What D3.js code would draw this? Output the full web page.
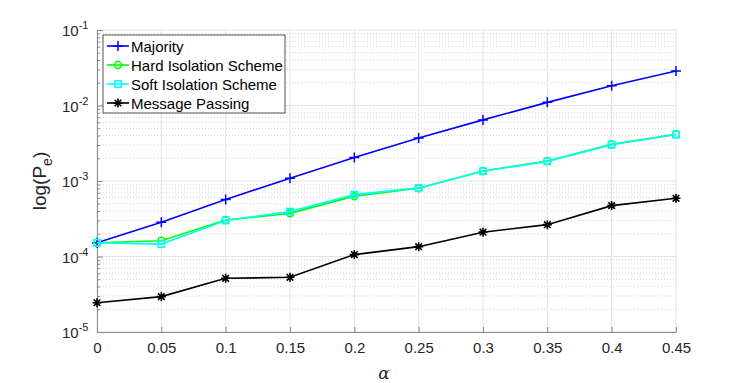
<!DOCTYPE html>
<html>
<head>
<meta charset="utf-8">
<script src="https://cdn.jsdelivr.net/npm/d3@7"></script>
<style>
body { margin: 0; background: #fff; }
text { font-family: "Liberation Sans", Arial, sans-serif; }
</style>
</head>
<body>
<svg id="chart" width="747" height="383"></svg>
<script>
// data
var alphas = [0, 0.05, 0.1, 0.15, 0.2, 0.25, 0.3, 0.35, 0.4, 0.45];
var majority = [1.52e-4, 2.85e-4, 5.7e-4, 1.09e-3, 2.05e-3, 3.72e-3, 6.45e-3, 1.1e-2, 1.83e-2, 2.87e-2];
var hardIso = [1.52e-4, 1.62e-4, 3.04e-4, 3.73e-4, 6.3e-4, 8.0e-4, 1.36e-3, 1.84e-3, 3.06e-3, 4.15e-3];
var softIso = [1.52e-4, 1.46e-4, 3.0e-4, 3.93e-4, 6.6e-4, 8.1e-4, 1.35e-3, 1.82e-3, 3.02e-3, 4.12e-3];
var msgPass = [2.44e-5, 2.94e-5, 5.14e-5, 5.3e-5, 1.06e-4, 1.35e-4, 2.1e-4, 2.64e-4, 4.72e-4, 5.9e-4];
var xTicks = [0, 0.05, 0.1, 0.15, 0.2, 0.25, 0.3, 0.35, 0.4, 0.45];
var yExps = [-5, -4, -3, -2, -1];

var series = [
	{name: "Majority", values: majority, color: "#0000ff", marker: "plus"},
	{name: "Hard Isolation Scheme", values: hardIso, color: "#00ff00", marker: "circle"},
	{name: "Soft Isolation Scheme", values: softIso, color: "#00ffff", marker: "square"},
	{name: "Message Passing", values: msgPass, color: "#000000", marker: "star"}
];

var svg = d3.select("#chart");
var pLeft = 97, pRight = 676, pTop = 30, pBottom = 332;

var x = d3.scaleLinear().domain([0, 0.45]).range([pLeft, pRight]);
var y = d3.scaleLog().domain([1e-5, 1e-1]).range([pBottom, pTop]);

// grid
var minor = [];
for (var e = -5; e < -1; e++) for (var k = 2; k < 10; k++) minor.push(k * Math.pow(10, e));
var grid = svg.append("g");
grid.selectAll(".minor").data(minor).enter().append("line")
	.attr("x1", pLeft).attr("x2", pRight)
	.attr("y1", d => y(d)).attr("y2", d => y(d))
	.style("stroke", "#d4d4d4").style("stroke-width", 1).style("stroke-dasharray", "1,2");
grid.selectAll(".ymaj").data(yExps).enter().append("line")
	.attr("x1", pLeft).attr("x2", pRight)
	.attr("y1", d => y(Math.pow(10, d))).attr("y2", d => y(Math.pow(10, d)))
	.style("stroke", "#e3e3e3");
grid.selectAll(".xmaj").data(xTicks).enter().append("line")
	.attr("x1", d => x(d)).attr("x2", d => x(d))
	.attr("y1", pTop).attr("y2", pBottom)
	.style("stroke", "#e3e3e3");

// axes
var xAxis = svg.append("g").attr("transform", "translate(0," + pBottom + ")")
	.call(d3.axisBottom(x).tickValues(xTicks).tickSize(-5).tickPadding(10).tickFormat(d3.format("")));
var yAxis = svg.append("g").attr("transform", "translate(" + pLeft + ",0)")
	.call(d3.axisLeft(y).tickValues(minor.concat(yExps.map(d => Math.pow(10, d))))
		.tickSize(-3).tickFormat(""));
yAxis.selectAll(".tick line").filter(d => yExps.some(p => Math.abs(Math.log10(d) - p) < 1e-9))
	.attr("x2", 6);
[xAxis, yAxis].forEach(a => {
	a.select(".domain").style("stroke", "#8a8a8a");
	a.selectAll(".tick line").style("stroke", "#8a8a8a");
});
xAxis.selectAll("text").style("font-size", "15px").style("fill", "#262626");

// y tick labels 10^n
var ylab = svg.append("g").selectAll("text").data(yExps).enter().append("text")
	.attr("x", pLeft - 35).attr("y", d => y(Math.pow(10, d)) + 6)
	.style("font-size", "15px").style("fill", "#262626");
ylab.append("tspan").text("10");
ylab.append("tspan").attr("dy", -7).style("font-size", "11px").text(d => d);

// labels
svg.append("text").attr("x", 384).attr("y", 379).attr("text-anchor", "middle")
	.style("font-family", "'DejaVu Serif', 'Liberation Serif', serif").style("font-style", "italic")
	.style("font-size", "17px").style("fill", "#262626").text("α");
var yl = svg.append("text").attr("transform", "translate(46,181) rotate(-90)")
	.attr("text-anchor", "middle").style("font-size", "19px").style("fill", "#262626");
yl.append("tspan").text("log(P");
yl.append("tspan").attr("dy", 6).style("font-size", "14px").text("e");
yl.append("tspan").attr("dy", -6).text(")");

// markers
function drawMarker(g, type, color) {
	if (type == "plus") {
		g.append("path").attr("d", "M-5,0H5M0,-5V5").style("stroke", color).style("stroke-width", 1.5);
	} else if (type == "circle") {
		g.append("circle").attr("r", 3.5).style("fill", "none").style("stroke", color).style("stroke-width", 1.5);
	} else if (type == "square") {
		g.append("rect").attr("x", -3.2).attr("y", -3.2).attr("width", 6.4).attr("height", 6.4)
			.style("fill", "none").style("stroke", color).style("stroke-width", 1.5);
	} else {
		g.append("path").attr("d", "M-4.5,0H4.5M0,-4.5V4.5M-3.3,-3.3L3.3,3.3M-3.3,3.3L3.3,-3.3")
			.style("stroke", color).style("stroke-width", 1.6);
	}
}

var line = d3.line().x((d, i) => x(alphas[i])).y(d => y(d));
var plot = svg.append("g");
series.forEach(s => {
	plot.append("path").datum(s.values).attr("d", line)
		.style("fill", "none").style("stroke", s.color).style("stroke-width", 1.6);
	s.values.forEach((v, i) => {
		drawMarker(plot.append("g").attr("transform", "translate(" + x(alphas[i]) + "," + y(v) + ")"), s.marker, s.color);
	});
});

// legend
var lg = svg.append("g").attr("transform", "translate(103,35)");
lg.append("rect").attr("width", 182).attr("height", 78)
	.style("fill", "#fff").style("stroke", "#262626").style("stroke-width", 0.8);
series.forEach((s, i) => {
	var row = lg.append("g").attr("transform", "translate(0," + (11 + i * 19) + ")");
	row.append("line").attr("x1", 4).attr("x2", 26).style("stroke", s.color).style("stroke-width", 1.6);
	drawMarker(row.append("g").attr("transform", "translate(15,0)"), s.marker, s.color);
	row.append("text").attr("x", 28).attr("y", 5.5).style("font-size", "15px").style("fill", "#000").text(s.name);
});
</script>
</body>
</html>
